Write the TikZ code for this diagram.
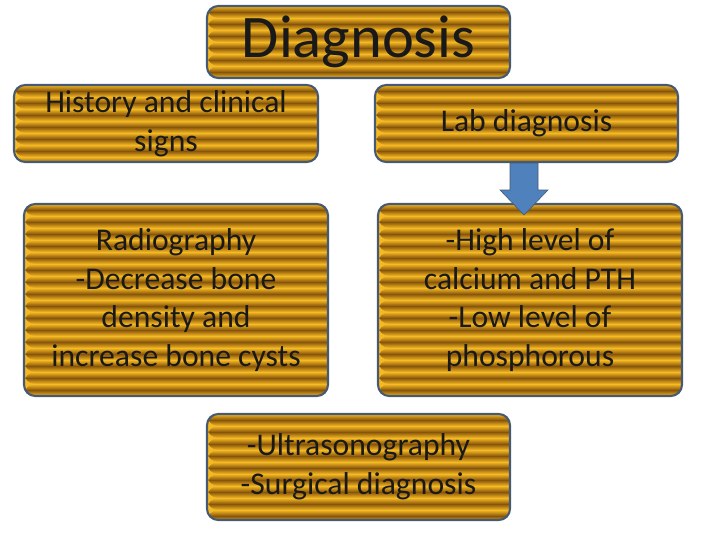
\documentclass[tikz,border=0pt]{standalone}
\usepackage{fontspec}
\setmainfont{Carlito}
\usetikzlibrary{calc}
\definecolor{gold}{RGB}{245,185,35}
\definecolor{bronze}{RGB}{135,85,10}
\definecolor{edgeblue}{RGB}{70,90,115}
\definecolor{arrowblue}{RGB}{79,129,189}
\tikzset{
  stripebox/.style={draw=edgeblue,line width=1.5pt,rounded corners=8pt,
    font=\fontsize{22.5}{27.5}\selectfont,align=center,text=black!90,
    path picture={
      \fill[gold] (path picture bounding box.south west) rectangle (path picture bounding box.north east);
      \foreach \i in {0,...,20}{
        \shade[top color=gold,bottom color=gold,middle color=bronze]
          ($(path picture bounding box.north west)+(0cm,-\i*0.3cm)$) rectangle +(20cm,-0.3cm);
      }}}
}
\begin{document}
\begin{tikzpicture}[x=0.025cm,y=-0.025cm]
\useasboundingbox (0,0) rectangle (720,540);

\node[stripebox,minimum width=303*0.025cm,minimum height=72*0.025cm,font=\fontsize{43}{44}\selectfont] (diag) at (358.5,42) {Diagnosis};
\node[stripebox,minimum width=304*0.025cm,minimum height=77*0.025cm] (hist) at (166,123.5) {History and clinical\\signs};
\node[stripebox,minimum width=303*0.025cm,minimum height=77*0.025cm] (lab) at (526.5,123.5) {Lab diagnosis};
\node[stripebox,minimum width=304*0.025cm,minimum height=192*0.025cm] (radio) at (176,300) {Radiography\\-Decrease bone\\density and\\increase bone cysts};
\node[stripebox,minimum width=304*0.025cm,minimum height=192*0.025cm] (level) at (530,300) {-High level of\\calcium and PTH\\-Low level of\\phosphorous};
\node[stripebox,minimum width=303*0.025cm,minimum height=106*0.025cm] (ultra) at (358.5,467) {-Ultrasonography\\-Surgical diagnosis};

% block arrow
\fill[arrowblue,draw=edgeblue] (510,163)--(538,163)--(538,190)--(548,190)--(524,215)--(500,190)--(510,190)--cycle;
\end{tikzpicture}
\end{document}
